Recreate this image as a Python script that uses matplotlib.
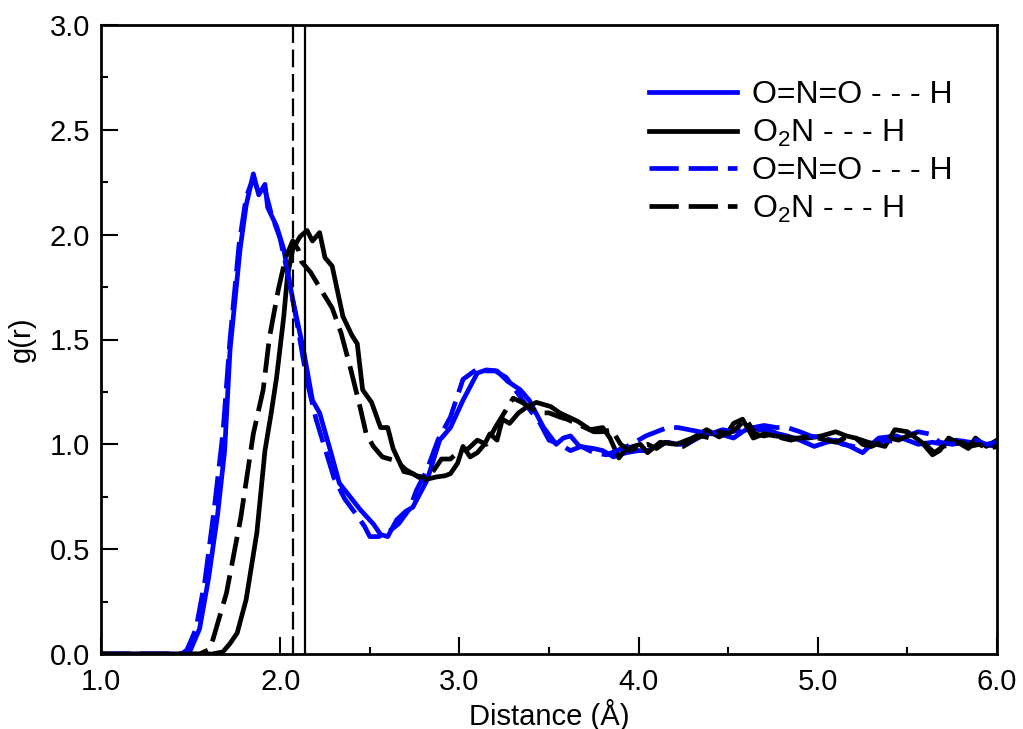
import matplotlib
matplotlib.use("Agg")
import matplotlib.pyplot as plt
from matplotlib.ticker import MultipleLocator, FormatStrFormatter

plt.rcParams['font.family'] = ['Liberation Sans', 'DejaVu Sans']
plt.rcParams['mathtext.default'] = 'regular'

# ---- data ----
labels = ["O=N=O - - - H", "O$_2$N - - - H", "O=N=O - - - H", "O$_2$N - - - H"]

x_blue_solid = [1.0, 1.45, 1.50, 1.55, 1.60, 1.65, 1.69, 1.72, 1.776, 1.81, 1.85, 1.88, 1.915, 1.93, 1.98,
                2.02, 2.07, 2.13, 2.18, 2.22, 2.28, 2.33, 2.39, 2.445, 2.52, 2.56, 2.60, 2.65, 2.70, 2.74,
                2.82, 2.89, 2.95, 3.02, 3.10, 3.15, 3.21, 3.27, 3.34, 3.39, 3.47, 3.54, 3.58, 3.62, 3.67,
                3.75, 3.80, 3.86, 3.93, 4.0, 4.05, 4.10, 4.16, 4.22, 4.27, 4.33, 4.38, 4.45, 4.53, 4.58,
                4.62, 4.67, 4.72, 4.78, 4.83, 4.9, 4.98, 5.05, 5.1, 5.18, 5.25, 5.3, 5.34, 5.44, 5.5,
                5.56, 5.64, 5.7, 5.77, 5.85, 5.92, 6.0]
y_blue_solid = [0.0, 0.0, 0.02, 0.12, 0.36, 0.66, 0.97, 1.45, 1.93, 2.14, 2.29, 2.19, 2.24, 2.13, 2.04,
                1.93, 1.69, 1.45, 1.21, 1.15, 0.97, 0.815, 0.75, 0.69, 0.62, 0.57, 0.56, 0.64, 0.68, 0.70,
                0.83, 1.02, 1.08, 1.21, 1.34, 1.355, 1.35, 1.30, 1.26, 1.21, 1.08, 1.00, 1.03, 1.04, 0.99,
                0.98, 0.97, 0.94, 0.96, 0.97, 0.97, 0.99, 1.01, 1.0, 1.0, 1.03, 1.05, 1.05, 1.03, 1.06,
                1.08, 1.07, 1.07, 1.05, 1.04, 1.02, 0.99, 1.01, 1.02, 0.99, 0.96, 1.0, 1.03, 1.04, 1.02,
                1.0, 1.01, 1.0, 1.02, 1.01, 1.0, 0.99]

x_black_solid = [1.0, 1.55, 1.62, 1.68, 1.72, 1.76, 1.81, 1.87, 1.915, 1.95, 1.98, 2.02, 2.04, 2.07, 2.11,
                 2.15, 2.18, 2.22, 2.25, 2.29, 2.35, 2.40, 2.43, 2.46, 2.51, 2.56, 2.60, 2.63, 2.69, 2.74,
                 2.80, 2.85, 2.875, 2.92, 2.95, 2.99, 3.02, 3.06, 3.10, 3.14, 3.17, 3.21, 3.24, 3.28, 3.33,
                 3.38, 3.43, 3.51, 3.56, 3.66, 3.73, 3.80, 3.84, 3.89, 3.93, 4.01, 4.05, 4.12, 4.21, 4.30,
                 4.38, 4.45, 4.50, 4.53, 4.58, 4.64, 4.70, 4.76, 4.87, 4.95, 5.02, 5.10, 5.16, 5.21, 5.28,
                 5.375, 5.43, 5.50, 5.58, 5.64, 5.68, 5.73, 5.78, 5.84, 5.88, 5.94, 6.0]
y_black_solid = [0.0, 0.0, 0.0, 0.01, 0.05, 0.10, 0.26, 0.58, 0.97, 1.15, 1.32, 1.61, 1.80, 1.93, 1.99,
                 2.02, 1.97, 2.01, 1.89, 1.85, 1.61, 1.52, 1.48, 1.26, 1.20, 1.08, 1.08, 0.98, 0.87, 0.86,
                 0.83, 0.84, 0.845, 0.85, 0.86, 0.91, 0.99, 0.94, 0.96, 1.0, 1.05, 1.02, 1.12, 1.10, 1.15,
                 1.18, 1.20, 1.18, 1.15, 1.11, 1.07, 1.08, 1.03, 0.935, 0.98, 1.0, 0.96, 1.01, 1.0, 1.03,
                 1.07, 1.035, 1.06, 1.10, 1.12, 1.03, 1.05, 1.04, 1.03, 1.03, 1.04, 1.06, 1.04, 1.03, 1.01,
                 0.99, 1.07, 1.06, 1.01, 0.95, 0.97, 1.03, 1.01, 0.98, 1.03, 0.99, 1.02]

x_blue_dash = [1.0, 1.45, 1.48, 1.53, 1.58, 1.63, 1.68, 1.72, 1.77, 1.81, 1.85, 1.88, 1.91, 1.95, 2.0,
               2.05, 2.10, 2.15, 2.20, 2.25, 2.30, 2.36, 2.42, 2.47, 2.50, 2.55, 2.60, 2.66, 2.72, 2.76,
               2.82, 2.88, 2.95, 3.02, 3.10, 3.15, 3.20, 3.26, 3.32, 3.38, 3.45, 3.50, 3.56, 3.62, 3.68,
               3.75, 3.82, 3.88, 3.96, 4.04, 4.10, 4.16, 4.22, 4.28, 4.34, 4.40, 4.47, 4.52, 4.58, 4.64,
               4.70, 4.77, 4.83, 4.90, 4.96, 5.02, 5.08, 5.14, 5.20, 5.26, 5.32, 5.38, 5.44, 5.50, 5.56,
               5.62, 5.68, 5.75, 5.82, 5.88, 5.94, 6.0]
y_blue_dash = [0.0, 0.0, 0.02, 0.12, 0.35, 0.68, 1.05, 1.50, 1.95, 2.18, 2.27, 2.20, 2.23, 2.10, 1.98,
               1.78, 1.55, 1.30, 1.12, 0.98, 0.84, 0.74, 0.67, 0.61, 0.56, 0.56, 0.58, 0.62, 0.69, 0.78,
               0.88, 1.02, 1.13, 1.31, 1.36, 1.35, 1.35, 1.32, 1.25, 1.18, 1.10, 1.02, 1.0, 0.97, 0.99,
               0.96, 0.95, 0.97, 1.0, 1.04, 1.06, 1.08, 1.08, 1.07, 1.06, 1.05, 1.07, 1.06, 1.07, 1.08,
               1.09, 1.08, 1.08, 1.06, 1.04, 1.03, 1.02, 1.0, 0.99, 0.98, 1.0, 1.02, 1.01, 1.04, 1.06,
               1.05, 1.01, 1.0, 1.01, 1.02, 1.0, 1.01]

x_black_dash = [1.0, 1.55, 1.60, 1.625, 1.70, 1.78, 1.85, 1.905, 1.94, 1.99, 2.03, 2.07, 2.10, 2.12, 2.17,
                2.24, 2.29, 2.34, 2.39, 2.445, 2.48, 2.52, 2.57, 2.65, 2.70, 2.76, 2.82, 2.86, 2.9, 2.95,
                3.0, 3.05, 3.1, 3.15, 3.2, 3.25, 3.30, 3.35, 3.4, 3.45, 3.5, 3.56, 3.6, 3.65, 3.7,
                3.75, 3.8, 3.85, 3.9, 3.95, 4.0, 4.05, 4.1, 4.15, 4.2, 4.25, 4.3, 4.35, 4.4, 4.45,
                4.5, 4.55, 4.6, 4.65, 4.7, 4.75, 4.8, 4.85, 4.9, 4.95, 5.0, 5.05, 5.1, 5.15, 5.2,
                5.25, 5.3, 5.35, 5.4, 5.45, 5.5, 5.55, 5.6, 5.65, 5.7, 5.75, 5.8, 5.85, 5.9, 5.95, 6.0]
y_black_dash = [0.0, 0.0, 0.02, 0.07, 0.29, 0.65, 1.05, 1.26, 1.51, 1.74, 1.89, 1.97, 1.93, 1.87, 1.82,
                1.72, 1.65, 1.53, 1.37, 1.18, 1.05, 0.99, 0.94, 0.92, 0.88, 0.85, 0.84, 0.88, 0.93, 0.93,
                0.97, 0.98, 1.02, 1.0, 1.08, 1.15, 1.22, 1.20, 1.17, 1.15, 1.15, 1.13, 1.12, 1.10, 1.08,
                1.06, 1.06, 1.07, 1.0, 0.97, 0.99, 1.0, 0.98, 1.01, 1.0, 0.99, 1.02, 1.04, 1.03, 1.06,
                1.05, 1.08, 1.12, 1.05, 1.04, 1.05, 1.03, 1.02, 1.03, 1.04, 1.03, 1.02, 1.01, 1.03, 1.04,
                1.0, 0.99, 1.01, 1.03, 1.02, 1.04, 1.05, 1.0, 0.96, 0.99, 1.0, 1.01, 0.99, 1.0, 0.98, 0.99]

vline_dash_x = 2.07
vline_solid_x = 2.14

# ---- figure ----
fig = plt.figure(figsize=(10.23, 7.29), dpi=100)
ax = fig.add_axes([101/1023, 1 - 654/729, 896/1023, 629/729])

lw = 3.4
dash = (6.2, 2.1)
l1, = ax.plot(x_blue_solid, y_blue_solid, color='#0000ff', lw=lw, label=labels[0])
l2, = ax.plot(x_black_solid, y_black_solid, color='black', lw=lw, label=labels[1])
l3, = ax.plot(x_blue_dash, y_blue_dash, color='#0000ff', lw=lw, dashes=dash, label=labels[2])
l4, = ax.plot(x_black_dash, y_black_dash, color='black', lw=lw, dashes=dash, label=labels[3])

ax.axvline(vline_dash_x, color='black', lw=1.6, dashes=(8, 3))
ax.axvline(vline_solid_x, color='black', lw=1.6)

ax.set_xlim(1.0, 6.0)
ax.set_ylim(0.0, 3.0)
ax.xaxis.set_major_locator(MultipleLocator(1.0))
ax.xaxis.set_minor_locator(MultipleLocator(0.5))
ax.yaxis.set_major_locator(MultipleLocator(0.5))
ax.yaxis.set_minor_locator(MultipleLocator(0.25))
ax.xaxis.set_major_formatter(FormatStrFormatter('%.1f'))
ax.yaxis.set_major_formatter(FormatStrFormatter('%.1f'))

ax.tick_params(which='both', direction='in', top=False, right=False, width=1.5, labelsize=21)
ax.tick_params(which='major', length=12)
ax.tick_params(which='minor', length=5)
ax.tick_params(axis='x', pad=10)
ax.tick_params(axis='y', pad=8)
for s in ax.spines.values():
    s.set_linewidth(2.0)

ax.set_xlabel('Distance (Å)', fontsize=21, labelpad=2)
ax.set_ylabel('g(r)', fontsize=21, labelpad=10)

leg = ax.legend(handles=[l1, l2, l3, l4], loc='upper left', bbox_to_anchor=(0.612, 0.912),
                frameon=False, fontsize=23, handlelength=2.75, handletextpad=0.45,
                labelspacing=0.23, borderpad=0, borderaxespad=0)

fig.savefig('out.png', dpi=100)
